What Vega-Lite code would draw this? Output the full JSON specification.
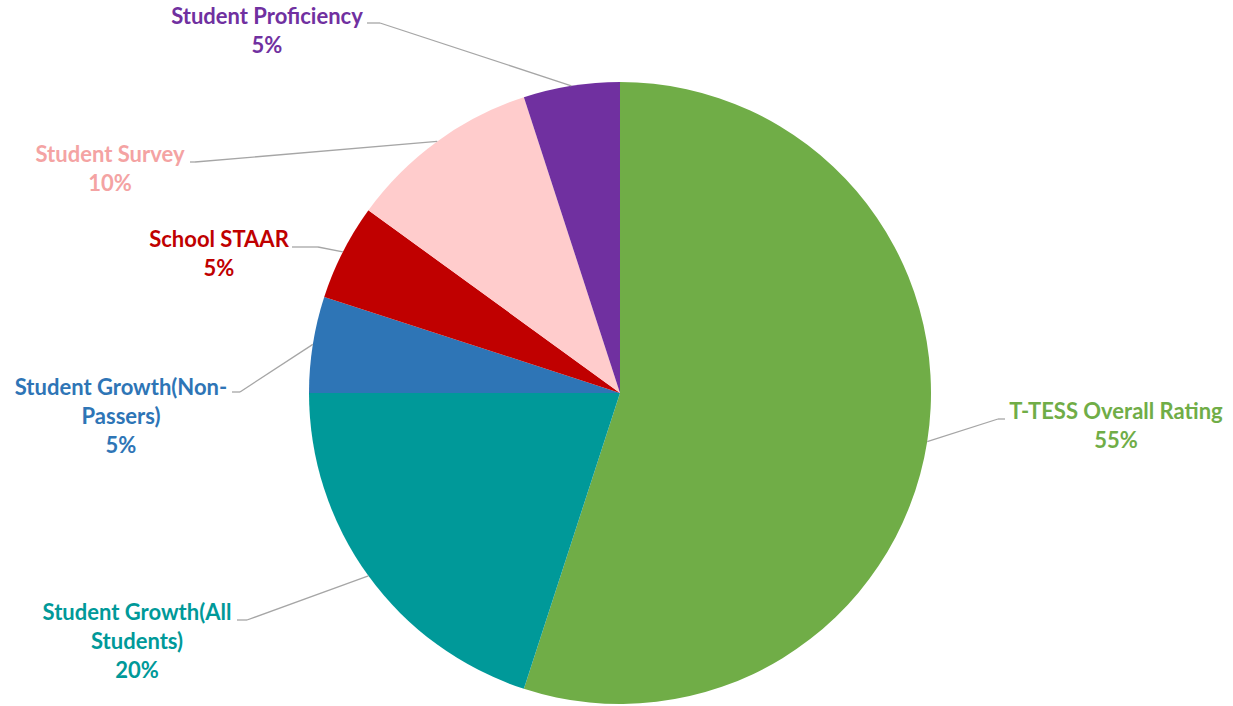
{
  "$schema": "https://vega.github.io/schema/vega-lite/v6.json",
  "autosize": {"type": "none"},
  "padding": {"left": 7, "top": 80, "right": 0, "bottom": 0},
  "width": 1226,
  "height": 626,
  "background": "white",
  "config": {"view": {"stroke": null}},
  "data": {
    "values": [
      {"category": "T-TESS Overall Rating", "value": 55, "order": 1},
      {"category": "Student Growth(All Students)", "value": 20, "order": 2},
      {"category": "Student Growth(Non-Passers)", "value": 5, "order": 3},
      {"category": "School STAAR", "value": 5, "order": 4},
      {"category": "Student Survey", "value": 10, "order": 5},
      {"category": "Student Proficiency", "value": 5, "order": 6}
    ]
  },
  "transform": [
    {"joinaggregate": [{"op": "sum", "field": "value", "as": "total"}]},
    {"window": [{"op": "sum", "field": "value", "as": "cum"}], "sort": [{"field": "order"}], "frame": [null, 0]},
    {"calculate": "(datum.cum - datum.value / 2) / datum.total * 2 * PI", "as": "mid"},
    {"calculate": "311 * sin(datum.mid)", "as": "ex"},
    {"calculate": "-311 * cos(datum.mid)", "as": "ey"},
    {"calculate": "replace(replace(datum.category, 'Non-', 'Non-\\n'), '(All ', '(All\\n') + '\\n' + format(datum.value / datum.total, '.0%')", "as": "txt"},
    {"calculate": "[496, -483, -499, -401, -510, -353][datum.order - 1]", "as": "tx"},
    {"calculate": "[19, 220, -5, -153, -238, -376][datum.order - 1]", "as": "ty"},
    {"calculate": "[385, -383, -388, -328, -430, -253][datum.order - 1]", "as": "sx"},
    {"calculate": "[26, 227, -1, -146, -231, -370][datum.order - 1]", "as": "sy"},
    {"calculate": "[378, -373, -380, -302, -425, -240][datum.order - 1]", "as": "kx"}
  ],
  "layer": [
    {
      "mark": {"type": "arc", "outerRadius": 311},
      "encoding": {
        "theta": {"field": "value", "type": "quantitative", "stack": true},
        "order": {"field": "order", "type": "quantitative"},
        "color": {
          "field": "category", "type": "nominal", "legend": null,
          "scale": {
            "domain": ["T-TESS Overall Rating", "Student Growth(All Students)", "Student Growth(Non-Passers)", "School STAAR", "Student Survey", "Student Proficiency"],
            "range": ["#70AD47", "#009999", "#2E75B6", "#C00000", "#FFCCCC", "#7030A0"]
          }
        }
      }
    },
    {
      "mark": {"type": "rule", "color": "#A6A6A6", "strokeWidth": 1.3},
      "encoding": {
        "x": {"field": "sx", "type": "quantitative", "axis": null, "scale": {"domain": [-613, 613], "nice": false, "zero": false}},
        "y": {"field": "sy", "type": "quantitative", "axis": null, "scale": {"domain": [-313, 313], "reverse": true, "nice": false, "zero": false}},
        "x2": {"field": "kx"},
        "y2": {"field": "sy"}
      }
    },
    {
      "mark": {"type": "rule", "color": "#A6A6A6", "strokeWidth": 1.3},
      "encoding": {
        "x": {"field": "kx", "type": "quantitative"},
        "y": {"field": "sy", "type": "quantitative"},
        "x2": {"field": "ex"},
        "y2": {"field": "ey"}
      }
    },
    {
      "mark": {"type": "text", "font": "Lato", "fontWeight": "bold", "fontSize": 22, "lineBreak": "\n", "lineHeight": 29, "align": "center", "baseline": "middle"},
      "encoding": {
        "x": {"field": "tx", "type": "quantitative"},
        "y": {"field": "ty", "type": "quantitative"},
        "text": {"field": "txt"},
        "color": {
          "field": "category", "type": "nominal", "legend": null,
          "scale": {
            "domain": ["T-TESS Overall Rating", "Student Growth(All Students)", "Student Growth(Non-Passers)", "School STAAR", "Student Survey", "Student Proficiency"],
            "range": ["#70AD47", "#009999", "#2E75B6", "#C00000", "#F4A3A3", "#7030A0"]
          }
        }
      }
    }
  ],
  "resolve": {"scale": {"color": "independent"}}
}
